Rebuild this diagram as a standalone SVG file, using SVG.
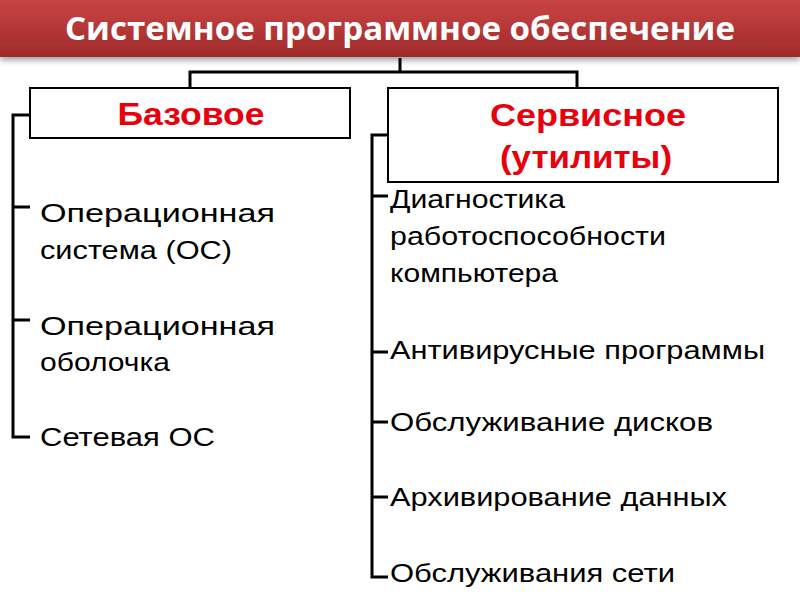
<svg xmlns="http://www.w3.org/2000/svg" width="800" height="600" viewBox="0 0 800 600">
<defs>
<linearGradient id="g" x1="0" y1="0" x2="0" y2="1"><stop offset="0" stop-color="#c94444"/><stop offset="1" stop-color="#a02a2a"/></linearGradient>
<filter id="sh" x="-5%" y="-20%" width="110%" height="160%"><feDropShadow dx="0" dy="3" stdDeviation="3" flood-opacity="0.4"/></filter>
</defs>
<style>
.ln{stroke:#000;stroke-width:3;fill:none}
.box{fill:#fff;stroke:#000;stroke-width:2}
.hd{font-family:"Liberation Sans",Arial,sans-serif;font-weight:bold;font-size:32px;fill:#e8000d;text-anchor:middle}
.it{font-family:"Liberation Sans",Arial,sans-serif;font-size:25px;fill:#000}
</style>
<g id="title">
<rect x="0" y="0" width="800" height="57" fill="url(#g)" filter="url(#sh)"/>
<text x="400" y="40" text-anchor="middle" font-family="'Open Sans','Liberation Sans',sans-serif" font-weight="bold" font-size="32" fill="#fff" textLength="670" lengthAdjust="spacingAndGlyphs">Системное программное обеспечение</text>
</g>
<g id="connectors">
<path class="ln" d="M400 58V72M190 88V72H577V88"/>
<path class="ln" d="M30 115H13V437H30M13 207H30M13 320H30"/>
<path class="ln" d="M388 135H372V577H388M372 196H388M372 352H388M372 422H388M372 497H388"/>
</g>
<g id="base">
<rect class="box" x="30" y="88" width="320" height="50"/>
<text class="hd" x="191" y="125" textLength="147" lengthAdjust="spacingAndGlyphs">Базовое</text>
</g>
<g id="service">
<rect class="box" x="388" y="88" width="390" height="94"/>
<text class="hd" x="588" y="126" textLength="196" lengthAdjust="spacingAndGlyphs">Сервисное</text>
<text class="hd" x="586" y="168" textLength="172" lengthAdjust="spacingAndGlyphs">(утилиты)</text>
</g>
<g id="base-items" class="it" lengthAdjust="spacingAndGlyphs">
<text x="40" y="222" textLength="235" lengthAdjust="spacingAndGlyphs">Операционная</text>
<text x="40" y="259" textLength="192" lengthAdjust="spacingAndGlyphs">система (ОС)</text>
<text x="40" y="335" textLength="235" lengthAdjust="spacingAndGlyphs">Операционная</text>
<text x="40" y="371" textLength="130" lengthAdjust="spacingAndGlyphs">оболочка</text>
<text x="40" y="446" textLength="175" lengthAdjust="spacingAndGlyphs">Сетевая  ОС</text>
</g>
<g id="service-items" class="it">
<text x="390" y="208" textLength="175" lengthAdjust="spacingAndGlyphs">Диагностика</text>
<text x="390" y="245" textLength="276" lengthAdjust="spacingAndGlyphs">работоспособности</text>
<text x="390" y="282" textLength="168" lengthAdjust="spacingAndGlyphs">компьютера</text>
<text x="390" y="359" textLength="375" lengthAdjust="spacingAndGlyphs">Антивирусные  программы</text>
<text x="390" y="431" textLength="323" lengthAdjust="spacingAndGlyphs">Обслуживание  дисков</text>
<text x="390" y="506" textLength="337" lengthAdjust="spacingAndGlyphs">Архивирование  данных</text>
<text x="390" y="582" textLength="285" lengthAdjust="spacingAndGlyphs">Обслуживания  сети</text>
</g>
</svg>
